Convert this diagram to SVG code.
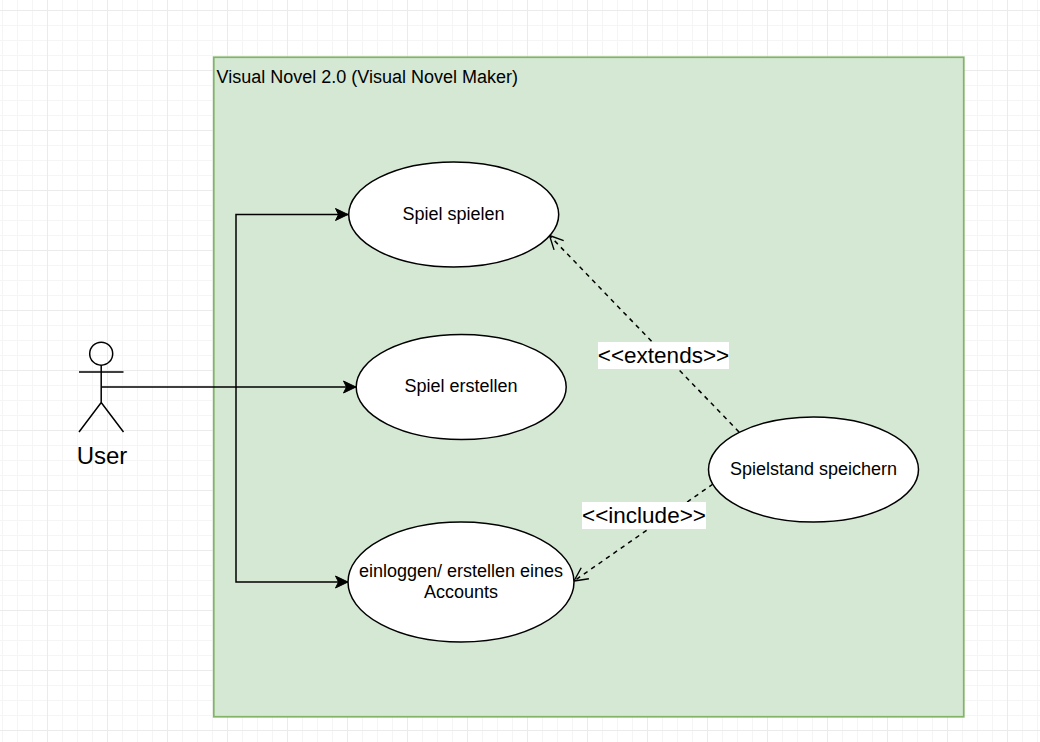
<svg xmlns="http://www.w3.org/2000/svg" width="1040" height="742" viewBox="0 0 1040 742">
<defs>
<pattern id="minor" width="15" height="15" patternUnits="userSpaceOnUse" x="2" y="10"><path d="M0.5 0V15M0 0.5H15" fill="none" stroke="#f5f5f5" stroke-width="1"/></pattern>
<pattern id="major" width="60" height="60" patternUnits="userSpaceOnUse" x="47" y="10"><path d="M0.5 0V60M0 0.5H60" fill="none" stroke="#ebebeb" stroke-width="1"/></pattern>
<marker id="solid" markerUnits="userSpaceOnUse" markerWidth="16" markerHeight="14" refX="13" refY="7" orient="auto"><path d="M0.5 1L13 7L0.5 13L3.500 7Z" fill="#000" stroke="#000"/></marker>
<marker id="open" markerUnits="userSpaceOnUse" markerWidth="18" markerHeight="18" refX="15" refY="9" orient="auto"><path d="M1.500 2.300L15 9L1.500 15.700" fill="none" stroke="#000" stroke-width="1.400"/></marker>
</defs>
<style>
.t{font-family:"Liberation Sans",Arial,sans-serif;fill:#000}
.u{font-size:18px;text-anchor:middle}
.l{font-size:22.500px;text-anchor:middle}
.n{fill:#fff;stroke:#000;stroke-width:1.500}
.c{fill:none;stroke:#000;stroke-width:1.500}
.d{stroke-dasharray:4.500 4.500;stroke-width:1.500}
</style>
<rect width="1040" height="742" fill="#fff"/>
<rect width="1040" height="742" fill="url(#minor)"/>
<rect width="1040" height="742" fill="url(#major)"/>
<g id="system">
<rect x="213.750" y="57.250" width="750" height="659.500" fill="#d5e8d4" stroke="#82b366" stroke-width="1.750"/>
<text class="t" x="216.500" y="83" font-size="18px">Visual Novel 2.0 (Visual Novel Maker)</text>
</g>
<g id="actor-user">
<circle class="c" cx="101.200" cy="353.700" r="11.500"/>
<path class="c" d="M101.200 365.200V402.500M79 372H123.500M79 432L101.200 402.500L123.500 432"/>
<text class="t" x="102" y="463.500" font-size="24px" text-anchor="middle">User</text>
</g>
<g id="connectors">
<path class="c" marker-end="url(#solid)" d="M101.500 387H236V214.500H348"/>
<path class="c" marker-end="url(#solid)" d="M236 387H356"/>
<path class="c" marker-end="url(#solid)" d="M236 387V582H348"/>
<path class="c d" marker-end="url(#open)" d="M739 432L549.500 235.500"/>
<path class="c d" marker-end="url(#open)" d="M713 484L574 581"/>
</g>
<g id="uc-spielen">
<ellipse class="n" cx="453.700" cy="214.500" rx="105" ry="52.500"/>
<text class="t u" x="453.500" y="220">Spiel spielen</text>
</g>
<g id="uc-erstellen">
<ellipse class="n" cx="461.200" cy="387" rx="105" ry="52.500"/>
<text class="t u" x="461" y="392">Spiel erstellen</text>
</g>
<g id="uc-einloggen">
<ellipse class="n" cx="461" cy="582" rx="113" ry="60"/>
<text class="t u" x="461" y="577">einloggen/ erstellen eines</text>
<text class="t u" x="461" y="597.500">Accounts</text>
</g>
<g id="uc-speichern">
<ellipse class="n" cx="813.500" cy="469.500" rx="105" ry="52.500"/>
<text class="t u" x="813.500" y="475">Spielstand speichern</text>
</g>
<g id="label-extends">
<rect x="598" y="342" width="131" height="27" fill="#fff"/>
<text class="t l" x="663.500" y="362.500">&lt;&lt;extends&gt;&gt;</text>
</g>
<g id="label-include">
<rect x="582" y="502" width="124" height="27" fill="#fff"/>
<text class="t l" x="644" y="522.500">&lt;&lt;include&gt;&gt;</text>
</g>
</svg>
